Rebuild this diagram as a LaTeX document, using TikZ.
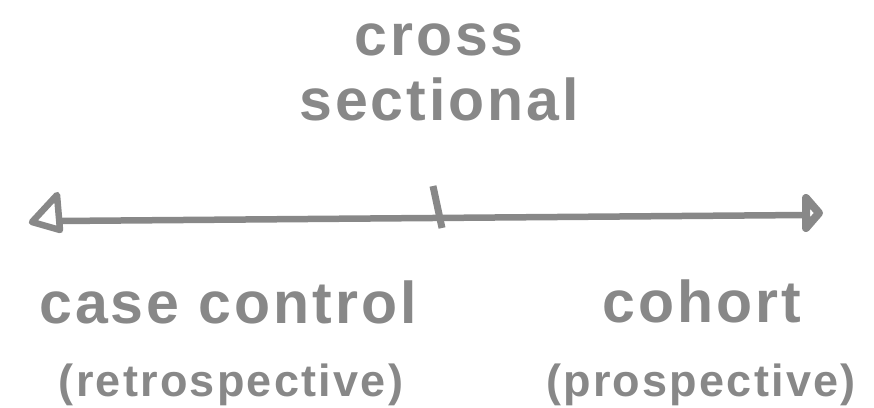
\documentclass[tikz,border=0pt]{standalone}
\usepackage{fontspec}
\setmainfont{Liberation Sans}[LetterSpace=5]
\definecolor{ink}{HTML}{888888}
\begin{document}
\begin{tikzpicture}[x=1pt,y=-1pt,
  lbl/.style={anchor=base,inner sep=0pt,text=ink,font=\bfseries\fontsize{59}{60}\selectfont},
  sub/.style={anchor=base,inner sep=0pt,text=ink,font=\bfseries\fontsize{45}{46}\selectfont},
  stroke/.style={draw=ink,line width=6.5pt}]
\useasboundingbox (0,0) rectangle (874,407);
% axis
\coordinate (L) at (58,221);
\coordinate (R) at (806,215);
\coordinate (T1) at (433,186);
\coordinate (T2) at (442,228);
\draw[stroke] (L) -- (R);
\draw[stroke,line width=7pt] (T1) -- (T2);
% arrowheads (open triangles)
\coordinate (la) at (32,222);
\coordinate (lb) at (57,195);
\coordinate (lc) at (60,230);
\draw[stroke,line join=round] (la) -- (lb) -- (lc) -- cycle;
\coordinate (ra) at (819,213);
\coordinate (rb) at (806,198);
\coordinate (rc) at (806,228);
\draw[stroke,line width=8pt,line join=round] (ra) -- (rb) -- (rc) -- cycle;
% labels
\node[lbl] (cross) at (439,55) {cross};
\node[lbl] (sect) at (439,120) {sectional};
\node[lbl] (cc) at (228,323) {case control};
\node[lbl] (coh) at (702,322) {cohort};
\node[sub] (retro) at (231,396) {(retrospective)};
\node[sub] (pro) at (701,396) {(prospective)};
\end{tikzpicture}
\end{document}
